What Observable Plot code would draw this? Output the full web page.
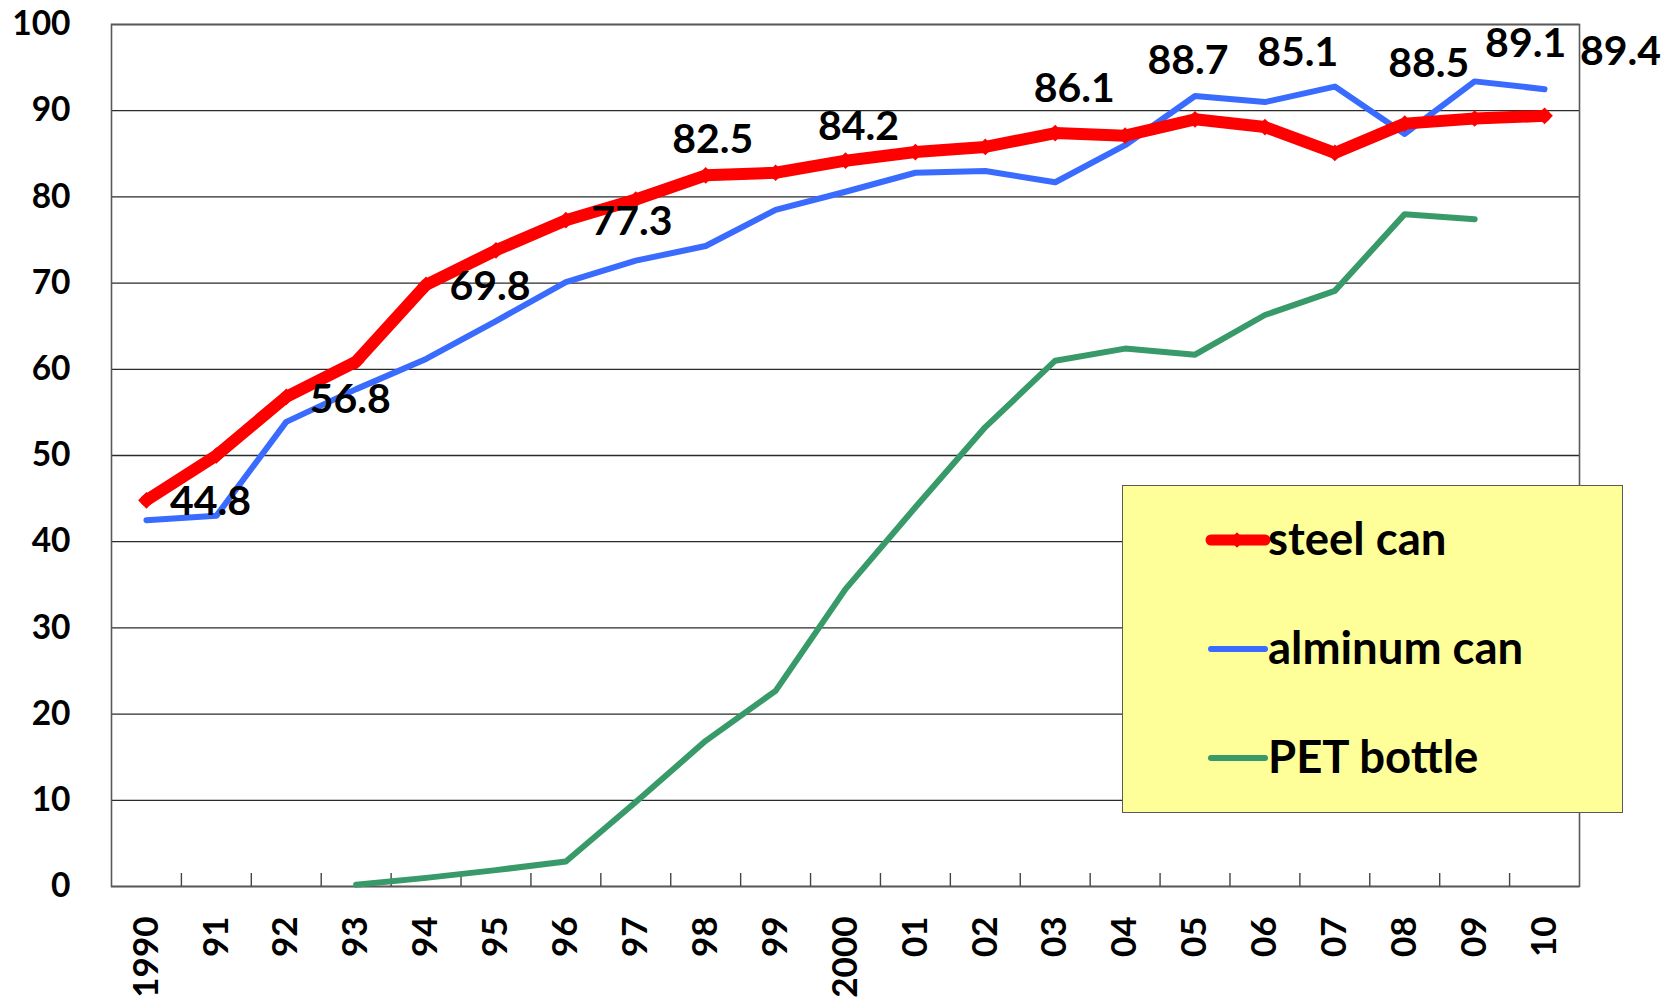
<!DOCTYPE html>
<html>
<head>
<meta charset="utf-8">
<script src="https://cdn.jsdelivr.net/npm/d3@7"></script>
<script src="https://cdn.jsdelivr.net/npm/@observablehq/plot@0.6"></script>
<style>
  body { margin: 0; background: #fff; }
  #wrap { position: relative; width: 1679px; height: 998px; }
  #legend { position: absolute; left: 1122px; top: 485px; width: 501px; height: 328px;
    background: #ffff99; border: 1.5px solid #595959; box-sizing: border-box; }
  #legend svg { position: absolute; left: 0; top: 0; }
</style>
</head>
<body>
<div id="wrap"></div>
<script>
// ---- data ----
const years = [1990, 1991, 1992, 1993, 1994, 1995, 1996, 1997, 1998, 1999, 2000,
               2001, 2002, 2003, 2004, 2005, 2006, 2007, 2008, 2009, 2010];
const yearLabels = ["1990", "91", "92", "93", "94", "95", "96", "97", "98", "99", "2000",
                    "01", "02", "03", "04", "05", "06", "07", "08", "09", "10"];
const yTicks = [0, 10, 20, 30, 40, 50, 60, 70, 80, 90, 100];

const steelCan = [44.8, 50.0, 56.8, 60.9, 69.8, 73.8, 77.3, 79.7, 82.5, 82.8, 84.2,
                  85.2, 85.8, 87.4, 87.1, 89.0, 88.1, 85.1, 88.5, 89.1, 89.4];
const aluminumCan = [42.5, 43.0, 53.9, 57.7, 61.2, 65.6, 70.1, 72.6, 74.3, 78.5, 80.6,
                     82.8, 83.0, 81.7, 86.0, 91.7, 91.0, 92.8, 87.3, 93.4, 92.5];
const petBottle = [null, null, null, 0.2, 1.0, 1.9, 2.9, 9.8, 16.9, 22.7, 34.5,
                   44.0, 53.3, 61.0, 62.4, 61.7, 66.3, 69.1, 78.0, 77.4, null];

// data labels on the steel-can series: anchor year and text
const labelYears = [1990, 1992, 1994, 1996, 1998, 2000, 2003, 2005, 2007, 2008, 2009, 2010];
const labelTexts = ["44.8", "56.8", "69.8", "77.3", "82.5", "84.2", "86.1", "88.7", "85.1", "88.5", "89.1", "89.4"];
// label offsets (pixels) from their anchor point
const labelOffsets = [[64, 2], [64, 3], [64, 2], [66, 2], [7, -35], [13, -34],
                      [19, -44], [-7, -58], [-37, -100], [24, -60], [51, -75], [76, -64]];

const seriesNames = ["steel can", "alminum can", "PET bottle"];
const seriesColors = ["#ff0000", "#3a6bff", "#389a68"];
const seriesWidths = [12, 6, 6];

// ---- build table ----
const toRows = (vals) => years.map((y, i) => ({year: y, value: vals[i]}));
const steelRows = toRows(steelCan);
const aluRows = toRows(aluminumCan);
const petRows = toRows(petBottle).filter(d => d.value != null);
const boundaries = years.slice(1).map(y => y - 0.5);

const labelMarks = labelYears.map((yr, i) => Plot.text([{year: yr, value: steelCan[years.indexOf(yr)], t: labelTexts[i]}], {
  x: "year", y: "value", text: "t",
  dx: labelOffsets[i][0], dy: labelOffsets[i][1],
  fontSize: 41, fontWeight: "bold", fill: "#000", textAnchor: "middle"
}));

const chart = Plot.plot({
  width: 1679,
  height: 998,
  marginLeft: 111,
  marginRight: 100,
  marginTop: 24,
  marginBottom: 112,
  style: {fontFamily: "Lato, 'Open Sans', sans-serif", fontWeight: "bold", color: "#000", background: "#fff", overflow: "visible"},
  x: {type: "linear", domain: [1989.5, 2010.5]},
  y: {domain: [0, 100]},
  marks: [
    Plot.ruleY(yTicks, {stroke: "#2a2a2a", strokeWidth: 1.3}),
    Plot.frame({stroke: "#595959", strokeWidth: 1.6}),
    Plot.axisY({ticks: yTicks, tickSize: 0, tickPadding: 41, fontSize: 33.5, fontWeight: "bold", label: null}),
    Plot.axisX({ticks: years, tickSize: 0, tickPadding: 30, tickRotate: -90, fontSize: 35, fontWeight: "bold",
      tickFormat: d => yearLabels[years.indexOf(d)], label: null}),
    Plot.axisX({ticks: boundaries, tickSize: -13, tickFormat: () => "", label: null, stroke: "#444", strokeWidth: 1.4}),
    Plot.line(petRows, {x: "year", y: "value", stroke: seriesColors[2], strokeWidth: seriesWidths[2]}),
    Plot.line(aluRows, {x: "year", y: "value", stroke: seriesColors[1], strokeWidth: seriesWidths[1]}),
    Plot.line(steelRows, {x: "year", y: "value", stroke: seriesColors[0], strokeWidth: seriesWidths[0]}),
    Plot.dot(steelRows, {x: "year", y: "value", symbol: "diamond2", fill: seriesColors[0], stroke: "none", r: 7.5}),
    ...labelMarks
  ]
});

const wrap = document.getElementById("wrap");
wrap.appendChild(chart);

// ---- legend (HTML overlay) ----
const legend = document.createElement("div");
legend.id = "legend";
wrap.appendChild(legend);
const lsvg = d3.select(legend).append("svg").attr("width", 498).attr("height", 325)
  .style("font-family", "Lato, 'Open Sans', sans-serif").style("font-weight", "bold");
seriesNames.forEach((name, i) => {
  const g = lsvg.append("g").attr("transform", `translate(0, ${54 + i * 109})`);
  g.append("line").attr("x1", 88).attr("x2", 142).attr("y1", 0).attr("y2", 0)
    .attr("stroke", seriesColors[i]).attr("stroke-width", i ? seriesWidths[i] : 11).attr("stroke-linecap", "round");
  if (i === 0) g.append("path").attr("d", d3.symbol(d3.symbolDiamond2, 150)()).attr("transform", "translate(114,0)").attr("fill", seriesColors[0]);
  g.append("text").attr("x", 145).attr("y", 15).attr("font-size", 45.5).attr("fill", "#000").text(name);
});
</script>
</body>
</html>
